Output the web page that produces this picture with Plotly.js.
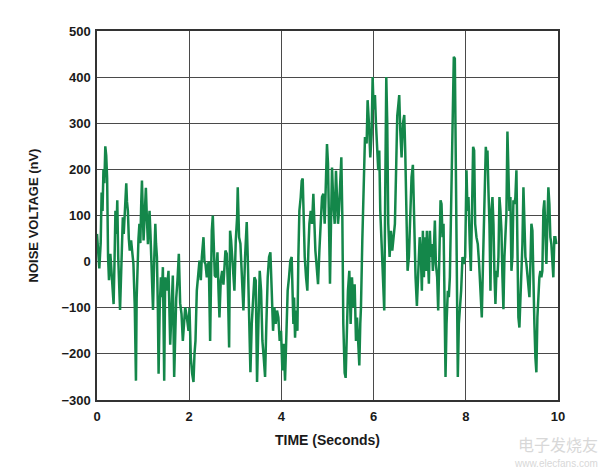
<!DOCTYPE html>
<html>
<head>
<meta charset="utf-8">
<script src="https://cdn.plot.ly/plotly-3.0.1.min.js"></script>
<style>html,body{margin:0;padding:0;background:#fff;}#chart{width:600px;height:474px;}</style>
</head>
<body>
<div id="chart"></div>
<script>
// Time (seconds)
const timeSec = [
0.00,0.03,0.05,0.08,0.10,0.12,0.14,0.16,0.18,0.20,0.22,0.24,0.26,0.29,0.31,0.33,0.36,0.38,0.40,0.42,0.44,0.46,0.48,0.50,0.53,0.56,0.58,0.61,0.635,0.65,0.67,0.69,0.71,0.74,0.77,0.79,0.82,0.845,0.86,0.875,0.90,0.92,0.94,0.96,0.975,0.99,1.01,1.03,1.06,1.08,1.105,1.12,1.14,1.16,1.18,1.20,1.215,1.24,1.265,1.28,1.30,1.32,1.336,1.36,1.386,
1.407,1.429,1.458,1.479,1.515,1.551,1.588,1.624,1.645,1.674,1.718,1.746,1.775,1.804,1.833,1.862,1.891,1.913,1.949,1.985,2.006,2.035,2.064,2.093,2.115,2.136,2.165,2.194,2.223,2.252,2.274,2.31,2.331,2.353,2.382,2.404,2.425,2.454,2.476,2.49,2.512,2.534,2.555,2.584,2.613,2.635,2.656,2.685,2.714,2.743,2.786,
2.815,2.837,2.866,2.887,2.909,2.938,2.981,3.01,3.039,3.053,3.068,3.082,3.111,3.14,3.176,3.212,3.248,3.27,3.299,3.328,3.357,3.393,3.414,3.443,3.472,3.501,3.53,3.559,3.588,3.617,3.646,3.674,3.703,3.732,3.761,3.79,3.819,3.848,3.876,3.905,3.934,3.963,3.992,4.021,4.05,4.079,4.108,4.136,4.165,4.194,4.223,
4.246,4.26,4.275,4.296,4.318,4.347,4.368,4.39,4.419,4.441,4.462,4.477,4.506,4.535,4.563,4.585,4.607,4.636,4.665,4.693,4.715,4.737,4.766,4.795,4.824,4.852,4.881,4.91,4.939,4.968,4.989,5.011,5.033,5.054,5.076,5.098,5.127,5.156,5.184,5.206,5.228,5.25,5.271,5.3,5.322,5.343,5.372,5.394,5.415,5.444,5.473,5.502,5.531,5.56,5.589,5.618,5.632,
5.64,5.668,5.69,5.711,5.726,5.755,5.784,5.813,5.849,5.87,5.899,5.928,5.957,5.979,6.0,6.029,6.051,6.073,6.101,6.123,6.145,6.174,6.202,6.231,6.253,6.275,6.296,6.318,6.347,6.376,6.405,6.434,6.462,6.491,6.513,6.535,6.556,6.578,6.607,6.636,6.665,6.686,6.708,6.737,6.766,6.795,6.823,6.852,6.881,6.91,6.939,6.968,7.0,
7.026,7.047,7.069,7.091,7.112,7.134,7.156,7.177,7.199,7.221,7.242,7.264,7.286,7.307,7.329,7.351,7.379,7.401,7.423,7.452,7.473,7.495,7.517,7.538,7.56,7.582,7.61,7.632,7.654,7.675,7.697,7.719,7.74,7.762,7.784,7.805,7.827,7.849,7.87,7.899,7.928,7.957,7.986,8.015,8.036,8.058,8.087,8.109,8.13,8.159,8.181,8.203,8.231,8.26,8.289,8.318,8.347,8.376,8.405,8.434,8.448,
8.47,8.491,8.513,8.535,8.556,8.578,8.6,8.621,8.643,8.665,8.686,8.708,8.73,8.751,8.773,8.795,8.816,8.838,8.86,8.881,8.903,8.925,8.946,8.968,8.99,9.011,9.033,9.055,9.076,9.098,9.12,9.141,9.163,9.185,9.206,9.228,9.25,9.271,9.293,9.315,9.336,9.358,9.38,9.401,9.423,9.445,9.466,9.488,9.51,9.531,9.553,9.574,9.596,9.618,9.639,9.661,9.683,9.704,9.726,9.748,9.769,9.791,9.813,9.834,9.856,9.878,9.899,9.921,9.943,9.964
];
// Noise voltage (nV)
const noiseNv = [
60,20,-15,40,150,110,200,170,250,230,180,10,-40,17,-10,-48,-92,0,110,60,133,10,-50,-105,-5,96,60,140,170,130,110,50,24,46,20,-5,-100,-258,-80,-5,50,82,40,130,176,120,46,90,160,100,38,80,110,60,10,-60,-105,0,82,40,10,-100,-243,-100,-34,
-77,-12,-258,-34,-63,-20,-180,-60,-30,-250,-80,-40,17,-90,-113,-172,-120,-99,-121,-150,-100,-208,-243,-261,-200,-172,-63,-20,2,-40,10,53,0,-5,-34,-10,0,-172,0,67,100,0,-30,-34,20,-60,-121,-40,-20,-50,24,
17,-48,-186,67,46,0,-63,46,96,161,120,53,39,-34,-106,10,86,10,-135,-240,-135,-63,-34,-41,-261,-135,-20,-63,-172,-208,-250,-135,-34,10,20,-63,-150,-99,-135,-106,-121,-172,-150,-236,-178,-258,-135,-63,-34,2,10,
-100,-135,-78,-165,-106,-150,10,110,140,175,180,110,10,-34,-63,24,82,110,82,147,67,24,-12,-49,24,82,140,147,82,183,255,212,24,-48,82,204,125,82,197,125,82,111,175,226,96,-135,-241,-252,-172,-63,-20,-135,-34,-99,-49,-172,-135,
-121,-178,-225,-135,-99,46,198,270,256,350,300,226,277,400,330,361,300,256,198,241,110,38,-34,-106,154,400,300,82,10,67,24,53,82,212,316,338,361,285,226,300,318,241,125,-20,10,118,183,210,67,-34,-96,-5,53,
10,-63,67,-34,53,-20,67,-5,-48,67,10,38,-20,24,89,-5,-34,-106,10,133,125,53,82,-135,-250,-135,-63,-77,-34,82,198,300,444,440,226,-63,-250,-135,-106,-63,10,-5,10,198,110,140,38,-20,82,249,241,82,53,38,-5,-63,-121,10,110,249,230,
241,154,82,-63,111,140,82,-27,-92,-20,-34,10,140,111,67,-34,-103,10,82,104,282,198,110,140,-20,10,133,125,140,198,67,-121,-143,-77,10,38,161,53,10,-5,-34,-63,-77,-5,82,67,-63,-135,-208,-240,-121,-63,-34,-20,-34,-20,111,133,67,-5,82,161,125,53,38,10,-34,53,53,38
];
const xTicks = [0, 2, 4, 6, 8, 10];
const yTicks = [-300, -200, -100, 0, 100, 200, 300, 400, 500];
const xTitle = 'TIME (Seconds)';
const yTitle = 'NOISE VOLTAGE (nV)';

const font = {family: '"Liberation Sans", Arial, sans-serif', size: 13, color: '#1a1a1a', weight: 'bold'};

const trace = {
  x: timeSec, y: noiseNv, type: 'scatter', mode: 'lines',
  line: {color: '#14874a', width: 2.5},
  hoverinfo: 'skip'
};

const axisCommon = {
  showgrid: true, gridcolor: '#4a4a4a', gridwidth: 1.2,
  showline: true, linecolor: '#333', linewidth: 1.6, mirror: true,
  zeroline: false, ticks: '', tickfont: font
};

const layout = {
  width: 600, height: 474,
  margin: {l: 97, r: 42, t: 31, b: 74},
  paper_bgcolor: '#ffffff', plot_bgcolor: '#ffffff',
  showlegend: false,
  xaxis: Object.assign({}, axisCommon, {
    range: [0, 10], tickvals: xTicks, ticktext: xTicks.map(String),
    ticklabelstandoff: 4,
    title: {text: xTitle, font: Object.assign({}, font, {size: 14}), standoff: 12}
  }),
  yaxis: Object.assign({}, axisCommon, {
    range: [-300, 500], tickvals: yTicks, ticktext: yTicks.map(v => v < 0 ? '\u2212' + Math.abs(v) : String(v)),
    ticklabelstandoff: 2,
    title: {text: yTitle, font: font, standoff: 20}
  }),
  annotations: [
    {text: '电子发烧友', xref: 'paper', yref: 'paper', x: 1.091, y: -0.118, xanchor: 'right', yanchor: 'middle', showarrow: false,
     font: {family: '"Noto Sans CJK SC", sans-serif', size: 16, color: '#d8d8d8'}},
    {text: 'www.elecfans.com', xref: 'paper', yref: 'paper', x: 1.091, y: -0.172, xanchor: 'right', yanchor: 'middle', showarrow: false,
     font: {family: '"Liberation Sans", Arial, sans-serif', size: 10, color: '#d8d8d8'}}
  ]
};

Plotly.newPlot('chart', [trace], layout, {displayModeBar: false, staticPlot: true});
</script>
</body>
</html>
